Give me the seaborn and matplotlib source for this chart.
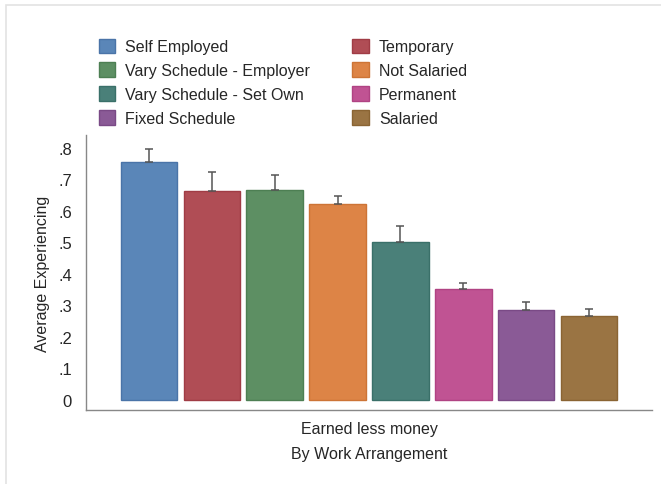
import numpy as np
import pandas as pd
import seaborn as sns
import matplotlib.pyplot as plt
from matplotlib.patches import Rectangle

# bar data
categories = ["Self Employed", "Temporary", "Vary Schedule - Employer", "Not Salaried",
              "Vary Schedule - Set Own", "Permanent", "Fixed Schedule", "Salaried"]
means = [0.755, 0.663, 0.664, 0.621, 0.501, 0.350, 0.286, 0.265]
upper = [0.797, 0.724, 0.712, 0.647, 0.551, 0.371, 0.310, 0.288]
colors = ["#5a86b8", "#b04d55", "#5d8f63", "#dd8446",
          "#4a8079", "#c05393", "#8a5a96", "#9a7443"]
edge_colors = ["#4a74a8", "#a03c45", "#4d7f53", "#cd7436",
               "#3a7069", "#b04383", "#7a4a86", "#8a6433"]
ytick_vals = [0, 0.1, 0.2, 0.3, 0.4, 0.5, 0.6, 0.7, 0.8]
ytick_labels = ["0", ".1", ".2", ".3", ".4", ".5", ".6", ".7", ".8"]

df = pd.DataFrame({"cat": categories, "mean": means})

sns.set_style("white")
plt.rcParams["font.family"] = ["Liberation Sans", "DejaVu Sans"]

fig = plt.figure(figsize=(6.61, 4.85), dpi=100)
ax = fig.add_axes([86 / 661, 1 - 411 / 485, (652 - 86) / 661, (411 - 136) / 485])

sns.barplot(data=df, x="cat", y="mean", hue="cat", palette=colors, order=categories,
            hue_order=categories, errorbar=None, width=0.897, legend=False,
            saturation=1, linewidth=1, ax=ax)
for p, ec in zip(ax.patches, edge_colors):
    p.set_edgecolor(ec)

# upper error bars only
x = np.arange(len(categories))
err = np.array(upper) - np.array(means)
ax.errorbar(x, means, yerr=[np.zeros(len(x)), err], fmt="none", ecolor="#555555",
            elinewidth=1.1, capsize=2.8, capthick=1.1)

ax.set_xlim(-1.0, 8.0)
ax.set_ylim(-0.033, 0.84)
ax.set_yticks(ytick_vals)
ax.set_yticklabels(ytick_labels, fontsize=12)
ax.tick_params(axis="y", length=0, pad=10)
ax.set_xticks([])
ax.set_ylabel("Average Experiencing", fontsize=11.5, labelpad=6)
ax.set_xlabel("Earned less money\nBy Work Arrangement", fontsize=11.5, linespacing=1.8,
              labelpad=8)

for s in ["top", "right"]:
    ax.spines[s].set_visible(False)
for s in ["left", "bottom"]:
    ax.spines[s].set_color("#888888")
    ax.spines[s].set_linewidth(1.0)

# legend: row-wise order in two columns
order = [0, 2, 4, 6, 1, 3, 5, 7]
handles = [ax.patches[i] for i in order]
labels = [categories[i] for i in order]
fig.legend(handles, labels, loc="upper left", bbox_to_anchor=(98.5 / 661, 1 - 39.5 / 485),
           ncol=2, frameon=False, prop={"size": 11.5}, handlelength=1.06, handleheight=1.04,
           handletextpad=0.63, columnspacing=2.6, labelspacing=0.5,
           borderpad=0, borderaxespad=0)

# light frame around the graph region
fig.patches.append(Rectangle((5.5 / 661, -0.1), 1.2, 1.1 - 5.5 / 485,
                             transform=fig.transFigure, fill=False,
                             edgecolor="#e3e3e3", linewidth=1.2))

fig.savefig("out.png", dpi=100)
